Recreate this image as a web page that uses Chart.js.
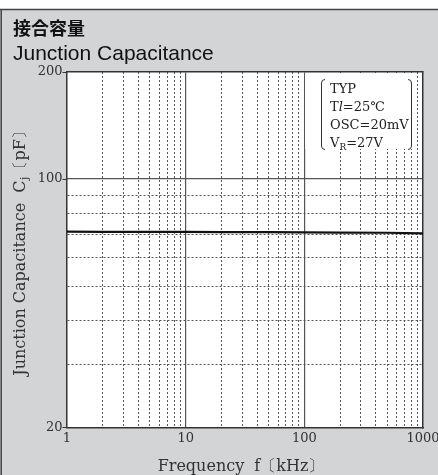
<!DOCTYPE html>
<html><head><meta charset="utf-8">
<script src="https://cdn.jsdelivr.net/npm/chart.js@4.4.1/dist/chart.umd.min.js"></script>
<style>html,body{margin:0;padding:0;background:#fff;}canvas{display:block;}</style>
</head><body>
<canvas id="c" width="438" height="475"></canvas>
<script>
// ---- data ----
const frequencyKHz = [1, 2, 5, 10, 20, 50, 100, 200, 500, 1000];
const capacitancePF = [71.1, 71.0, 71.0, 71.0, 70.9, 70.9, 70.8, 70.7, 70.6, 70.3];
const xTickLabels = [1, 10, 100, 1000];
const yTickLabels = [20, 100, 200];
const xMajorGrid = [10, 100];
const yMajorGrid = [100];
const titleJa = '接合容量';
const titleEn = 'Junction Capacitance';
const xAxisTitle = 'Frequency  f〔kHz〕';
const yAxisTitleParts = ['Junction Capacitance  C', 'j', '〔pF〕'];
const conditionLines = [
  [['TYP', '']],
  [['T', ''], ['l', 'italic'], ['=25℃', '']],
  [['OSC=20mV', '']],
  [['V', ''], ['R', 'sub'], ['=27V', '']]
];

const SERIF = '"DejaVu Serif", serif';
Chart.defaults.font.family = SERIF;
Chart.defaults.font.size = 13;
const has = (arr, v) => arr.some(a => Math.abs(a - v) < 1e-6);
const clear = 'rgba(0,0,0,0)';
// keep only 1..9 x 10^n ticks (drop the library's extra 1.5 x 10^n ticks)
const keepDecadeTicks = s => {
  s.ticks = s.ticks.filter(t => {
    const m = t.value / Math.pow(10, Math.floor(Math.log10(t.value) + 1e-9));
    return Math.abs(m - Math.round(m)) < 1e-6;
  });
};
const noPad = s => { s.paddingLeft = 0; s.paddingRight = 0; s.paddingTop = 0; s.paddingBottom = 0; };

const decor = {
  id: 'decor',
  beforeDraw(chart) {
    const ctx = chart.ctx, W = chart.width, H = chart.height, a = chart.chartArea;
    ctx.save();
    ctx.fillStyle = '#fff';
    ctx.fillRect(0, 0, W, H);
    ctx.fillStyle = '#d3d4d6';
    ctx.fillRect(0, 9, W, H - 9);
    ctx.strokeStyle = '#444';
    ctx.lineWidth = 1.5;
    ctx.beginPath();
    ctx.moveTo(0, 9.5); ctx.lineTo(W, 9.5);
    ctx.moveTo(1.2, 9); ctx.lineTo(1.2, H);
    ctx.stroke();
    ctx.fillStyle = '#fff';
    ctx.fillRect(a.left, a.top, a.right - a.left, a.bottom - a.top);
    ctx.fillStyle = '#111';
    ctx.textBaseline = 'alphabetic';
    ctx.textAlign = 'left';
    ctx.font = 'bold 18px "Noto Sans CJK JP"';
    ctx.fillText(titleJa, 13, 35);
    ctx.font = '21px "Liberation Sans", Arial, sans-serif';
    ctx.fillText(titleEn, 13, 60);
    // x axis title
    ctx.fillStyle = '#333';
    ctx.font = '16px ' + SERIF;
    ctx.textAlign = 'center';
    ctx.fillText(xAxisTitle, 241, 471);
    // y axis title with subscript
    ctx.save();
    ctx.translate(25, (a.top + a.bottom) / 2);
    ctx.rotate(-Math.PI / 2);
    ctx.textAlign = 'left';
    const fMain = '16px ' + SERIF, fSub = '11px ' + SERIF;
    ctx.font = fMain; const w0 = ctx.measureText(yAxisTitleParts[0]).width;
    ctx.font = fSub; const w1 = ctx.measureText(yAxisTitleParts[1]).width;
    ctx.font = fMain; const w2 = ctx.measureText(yAxisTitleParts[2]).width;
    let x = -(w0 + w1 + w2) / 2;
    ctx.font = fMain; ctx.fillText(yAxisTitleParts[0], x, 0); x += w0;
    ctx.font = fSub; ctx.fillText(yAxisTitleParts[1], x + 0.5, 3); x += w1 + 0.5;
    ctx.font = fMain; ctx.fillText(yAxisTitleParts[2], x, 0);
    ctx.restore();
    ctx.restore();
  },
  beforeDatasetsDraw(chart) {
    const ctx = chart.ctx, a = chart.chartArea;
    const x0 = 305, x1 = 415, y0 = a.top + 1, y1 = 149;
    ctx.save();
    ctx.fillStyle = '#fff';
    ctx.fillRect(x0, y0, x1 - x0, y1 - y0);
    ctx.strokeStyle = '#333';
    ctx.lineWidth = 1;
    ctx.beginPath();
    ctx.moveTo(325, 79.5); ctx.quadraticCurveTo(321.5, 79.5, 321.5, 83);
    ctx.lineTo(321.5, 146); ctx.quadraticCurveTo(321.5, 149.5, 325, 149.5);
    ctx.moveTo(408, 79.5); ctx.quadraticCurveTo(411.5, 79.5, 411.5, 83);
    ctx.lineTo(411.5, 146); ctx.quadraticCurveTo(411.5, 149.5, 408, 149.5);
    ctx.stroke();
    ctx.fillStyle = '#222';
    ctx.textAlign = 'left';
    ctx.textBaseline = 'alphabetic';
    const baselines = [93, 111, 129, 147];
    conditionLines.forEach((line, k) => {
      let x = 330;
      line.forEach(([txt, st]) => {
        let dy = 0;
        if (st === 'italic') ctx.font = 'italic 13px ' + SERIF;
        else if (st === 'sub') { ctx.font = '9px ' + SERIF; dy = 3; }
        else ctx.font = '13px ' + SERIF;
        ctx.fillText(txt, x, baselines[k] + dy);
        x += ctx.measureText(txt).width;
      });
    });
    ctx.restore();
  }
};

const tickFont = { family: SERIF, size: 13 };

new Chart(document.getElementById('c'), {
  type: 'line',
  data: {
    datasets: [{
      data: frequencyKHz.map((f, i) => ({ x: f, y: capacitancePF[i] })),
      borderColor: '#111',
      borderWidth: 2.2,
      pointRadius: 0,
      tension: 0,
      fill: false
    }]
  },
  options: {
    responsive: false,
    animation: false,
    layout: { padding: { left: 0, top: 72, right: 15, bottom: 0 } },
    plugins: { legend: { display: false }, tooltip: { enabled: false } },
    scales: {
      x: {
        type: 'logarithmic', position: 'bottom', min: 1, max: 1000,
        afterBuildTicks: keepDecadeTicks,
        afterFit: s => { s.height = 47.5; noPad(s); },
        ticks: {
          autoSkip: false, maxRotation: 0, minRotation: 0, padding: 3,
          font: tickFont, color: '#333',
          callback: v => has(xTickLabels, v) ? String(v) : ''
        },
        grid: {
          drawTicks: false, lineWidth: 1,
          color: c => (has(xMajorGrid, c.tick.value) || has([1, 1000], c.tick.value)) ? clear : '#555'
        },
        border: { display: true, color: '#333', width: 1.5, dash: [2, 2] }
      },
      x2: {
        type: 'logarithmic', position: 'top', min: 1, max: 1000,
        afterBuildTicks: keepDecadeTicks,
        afterFit: s => { s.height = 0; noPad(s); },
        ticks: { display: false },
        grid: {
          drawTicks: false, lineWidth: 1.2,
          color: c => has(xMajorGrid, c.tick.value) ? '#555' : clear
        },
        border: { display: true, color: '#333', width: 1.5 }
      },
      y: {
        type: 'logarithmic', position: 'left', min: 20, max: 200,
        afterBuildTicks: keepDecadeTicks,
        afterFit: s => { s.width = 67; noPad(s); },
        ticks: {
          autoSkip: false, padding: 0, font: tickFont, color: '#333',
          callback: v => has(yTickLabels, v) ? String(v) : ''
        },
        grid: {
          drawTicks: true, tickLength: 4.5, lineWidth: 1,
          tickColor: c => has(yTickLabels, c.tick.value) ? '#333' : clear,
          color: c => (has(yMajorGrid, c.tick.value) || has([20, 200], c.tick.value)) ? clear : '#555'
        },
        border: { display: true, color: '#333', width: 1.5, dash: [2, 2] }
      },
      y2: {
        type: 'logarithmic', position: 'right', min: 20, max: 200,
        afterBuildTicks: keepDecadeTicks,
        afterFit: s => { s.width = 0; noPad(s); },
        ticks: { display: false },
        grid: {
          drawTicks: false, lineWidth: 1.2,
          color: c => has(yMajorGrid, c.tick.value) ? '#555' : clear
        },
        border: { display: true, color: '#333', width: 1.5 }
      }
    }
  },
  plugins: [decor]
});
</script>
</body></html>
